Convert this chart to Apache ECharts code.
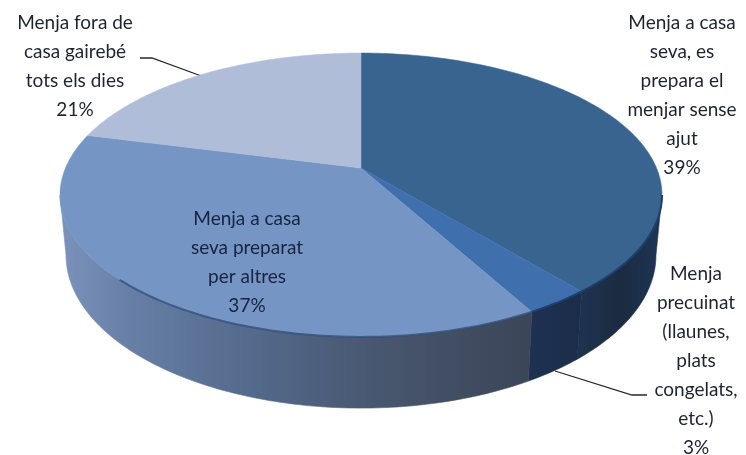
<!DOCTYPE html>
<html>
<head>
<meta charset="utf-8">
<style>html,body{margin:0;padding:0;background:#fff}#c{width:746px;height:455px}</style>
<script src="https://cdn.jsdelivr.net/npm/echarts@6/dist/echarts.min.js"></script>
</head>
<body>
<div id="c"></div>
<script>
// Data, clockwise from the top
const categories = [
  'Menja a casa\nseva, es\nprepara el\nmenjar sense\najut',
  'Menja\nprecuinat\n(llaunes,\nplats\ncongelats,\netc.)',
  'Menja a casa\nseva preparat\nper altres',
  'Menja fora de\ncasa gairebé\ntots els dies'
];
const values = [39, 3, 37, 21];

// Style and layout, kept apart from the data
const topColors = ['#39648f', '#3f70ad', '#7596c4', '#b0bdd8'];
const sideStops = [
  [[577, '#1f3350'], [620, '#1b2b42'], [662, '#1e3554']],
  [[528, '#1e3150'], [582, '#1b2d4b']],
  [[60, '#7b93bc'], [130, '#677fa6'], [240, '#556c8e'], [340, '#4b5c78'], [440, '#434f64'], [533, '#3a4558']]
];
const labelCenters = [[682, 8], [696, 259], [247, 204], [75, 8]];
const labelColors = ['#1c2430', '#1c2430', '#17233f', '#1c2430'];
const leaders = [
  [[555, 371], [632, 395], [647, 395]],
  [[140, 58], [152, 58], [204, 77]]
];
const FONT = 'Lato';
const FONT_SIZE = 19;
const LINE_H = 29;

// Projection of the tilted disc
const CX = 361, K = 0.19;
const TOP = { y: 168, R: 295.5, S: 136.8 };
const BOT = { y: 226, R: 289.6, S: 147.5 };
const VIS_FROM = 101, VIS_TO = 259;

function proj(deg, f) {
  const t = deg * Math.PI / 180, u = Math.sin(t), v = -Math.cos(t), d = 1 - K * v;
  return [CX + f.R * u / d, f.y + f.S * v / d];
}
function arc(a, b, f) {
  const out = [], n = Math.max(2, Math.ceil(Math.abs(b - a)));
  for (let i = 0; i <= n; i++) out.push(proj(a + (b - a) * i / n, f));
  return out;
}
const total = values.reduce((s, x) => s + x, 0);
const starts = [];
values.reduce((acc, x, i) => { starts[i] = acc; return acc + x; }, 0);
const toDeg = x => x / total * 360;

function gradient(stops) {
  const x0 = stops[0][0], x1 = stops[stops.length - 1][0];
  return new echarts.graphic.LinearGradient(x0, 0, x1, 0,
    stops.map(s => ({ offset: (s[0] - x0) / (x1 - x0), color: s[1] })), true);
}

function renderSlice(params, api) {
  const i = api.value(0);
  const a = toDeg(starts[i]), b = toDeg(starts[i] + api.value(1));
  const children = [];
  const sa = Math.max(a, VIS_FROM), sb = Math.min(b, VIS_TO);
  if (sb > sa) {
    const pts = arc(sa, sb, TOP).concat(arc(sb, sa, BOT));
    const fill = gradient(sideStops[i]);
    children.push({
      type: 'polygon', shape: { points: pts },
      style: { fill: fill, stroke: fill, lineWidth: 0.6 }, z2: 1
    });
    const rim = arc(sa, Math.min(sb, 225), TOP);
    if (Math.min(sb, 225) > sa) {
      children.push({
        type: 'polyline', shape: { points: rim },
        style: { fill: null, stroke: i === 2 ? '#2f4a73' : '#1f3f6b', lineWidth: 2, opacity: i === 2 ? 0.75 : 1 }, z2: 3
      });
    }
  }
  const face = [[CX, TOP.y]].concat(arc(a, b, TOP));
  children.push({
    type: 'polygon', shape: { points: face },
    style: { fill: topColors[i], stroke: topColors[i], lineWidth: 0.5 }, z2: 2
  });
  return { type: 'group', children: children };
}

const graphics = [];
leaders.forEach(p => graphics.push({
  type: 'polyline', z: -1, shape: { points: p },
  style: { fill: null, stroke: '#25282c', lineWidth: 1.3 }
}));
categories.forEach((c, i) => graphics.push({
  type: 'text', z: 10, x: labelCenters[i][0], y: labelCenters[i][1],
  style: {
    text: c + '\n' + values[i] + '%', fill: labelColors[i], align: 'center', verticalAlign: 'top',
    font: FONT_SIZE + 'px ' + FONT, lineHeight: LINE_H
  }
}));

const chart = echarts.init(document.getElementById('c'), null, { renderer: 'canvas' });
chart.setOption({
  animation: false,
  backgroundColor: '#ffffff',
  graphic: graphics,
  series: [{
    type: 'custom',
    coordinateSystem: 'none',
    silent: true,
    renderItem: renderSlice,
    data: values.map((v, i) => [i, v])
  }]
});
</script>
</body>
</html>
